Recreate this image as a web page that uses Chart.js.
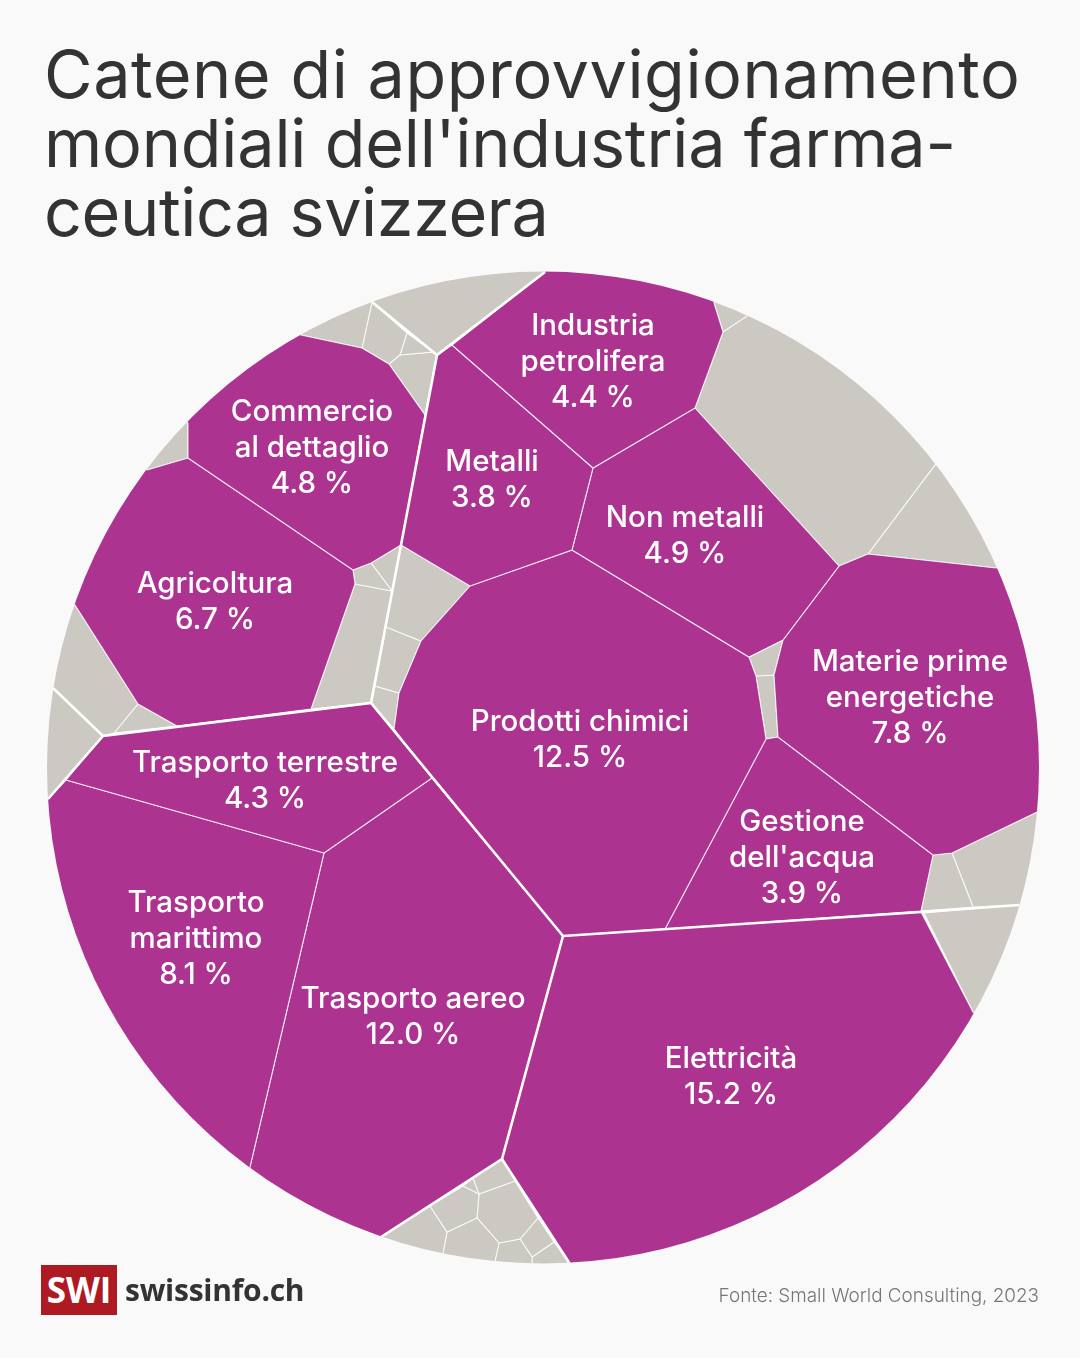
<!DOCTYPE html>
<html lang="it">
<head>
  <meta charset="UTF-8">
  <title>Catene di approvvigionamento</title>
  <script src="https://cdn.jsdelivr.net/npm/chart.js"></script>
  <style>
    html, body { margin:0; padding:0; background:#f9f9f9; }
    body { width:1080px; height:1358px; position:relative; overflow:hidden; font-family:Inter, sans-serif; }
    #chart { position:absolute; left:0; top:0; }
    h1 {
      position:absolute; left:44px; top:40px; margin:0; white-space:nowrap;
      font-size:66.5px; line-height:69px; font-weight:400; color:#333;
    }
    .logo-box {
      position:absolute; left:41px; top:1265px; width:76px; height:50px; background:#ae1a22; color:#fff;
      font:700 35px/50px "Open Sans", sans-serif; text-align:center;
    }
    .logo-name { position:absolute; left:125px; top:1270px; font:700 30px/40px "Open Sans", sans-serif; color:#333; letter-spacing:-0.25px; }
    .source { position:absolute; right:41px; top:1284px; font-size:18.9px; line-height:24px; font-weight:300; color:#777; }
  </style>
</head>
<body>
  <canvas id="chart" width="1080" height="1358"></canvas>
  <h1><span style="letter-spacing:0.55px">Catene di approvvigionamento</span><br><span style="letter-spacing:-0.2px">mondiali dell'industria farma-</span><br><span style="letter-spacing:-0.4px">ceutica svizzera</span></h1>
  <div class="logo-box">SWI</div>
  <div class="logo-name">swissinfo.ch</div>
  <div class="source">Fonte: Small World Consulting, 2023</div>
  <script>
    const categories = ["Industria\npetrolifera", "Commercio\nal dettaglio", "Metalli", "Non metalli", "Agricoltura",
      "Materie prime\nenergetiche", "Prodotti chimici", "Trasporto terrestre", "Gestione\ndell'acqua",
      "Trasporto\nmarittimo", "Trasporto aereo", "Elettricità"];
    const shares = [4.4, 4.8, 3.8, 4.9, 6.7, 7.8, 12.5, 4.3, 3.9, 8.1, 12.0, 15.2];
    const labelAnchors = [[593,326], [312,412], [492,462], [685,518], [215,584], [910,662],
      [580,722], [265,763], [802,822], [196,903], [413,999], [731,1059]];

    // cell outlines, same order as categories
    const namedCells = [
      [[452,345],[545,272],[714,303],[723,332],[695,408],[593,468]],
      [[188,423],[301,335],[362,348],[389,364],[425,415],[401,545],[371,563],[353,570],[188,458]],
      [[437,355],[452,345],[593,468],[572,550],[470,586],[401,545]],
      [[572,550],[593,468],[695,408],[839,566],[783,640],[749,657]],
      [[147,470],[188,458],[353,570],[355,584],[311,709],[177,726],[138,704],[75,605]],
      [[868,554],[996,568],[1037,812],[952,853],[933,855],[778,737],[774,675],[783,640],[839,566]],
      [[470,586],[572,550],[749,657],[756,676],[766,739],[665,929],[563,936],[432,778],[394,729],[399,693],[421,641]],
      [[103,736],[371,703],[432,778],[324,853],[66,780]],
      [[778,737],[933,855],[921,911],[665,929],[766,739]],
      [[48,799],[66,780],[324,853],[250,1167]],
      [[324,853],[432,778],[563,936],[502,1159],[381,1237],[250,1167]],
      [[563,936],[921,912],[973,1012],[570,1264],[502,1159]]
    ];
    // unnamed grey sectors
    const otherCells = [
      [[372,302],[545,272],[437,355]],
      [[301,335],[372,302],[362,348]],
      [[372,302],[407,333],[400,355],[389,364],[362,348]],
      [[407,333],[433,352],[400,355]],
      [[400,355],[433,352],[437,355],[425,415],[389,364]],
      [[188,423],[188,458],[147,470]],
      [[355,584],[353,570],[371,563],[392,591]],
      [[371,563],[401,545],[392,591]],
      [[355,584],[392,591],[371,703],[311,709]],
      [[401,545],[470,586],[421,641],[386,627]],
      [[386,627],[421,641],[399,693],[375,686]],
      [[375,686],[399,693],[394,729],[371,703]],
      [[75,605],[138,704],[114,733],[103,736],[53,688]],
      [[138,704],[177,726],[114,733]],
      [[53,688],[103,736],[48,799]],
      [[502,1159],[515,1181],[479,1194],[473,1178]],
      [[473,1178],[479,1194],[463,1186]],
      [[463,1186],[479,1194],[477,1218],[447,1232],[430,1206]],
      [[430,1206],[447,1232],[443,1253],[381,1237]],
      [[447,1232],[477,1218],[499,1243],[495,1261],[443,1253]],
      [[477,1218],[479,1194],[515,1181],[538,1218],[520,1239],[499,1243]],
      [[499,1243],[520,1239],[532,1257],[532,1263],[495,1261]],
      [[520,1239],[538,1218],[554,1242],[532,1257]],
      [[532,1257],[554,1242],[570,1264],[532,1263]],
      [[933,855],[952,853],[973,907],[921,911]],
      [[952,853],[1037,812],[1019,905],[973,907]],
      [[924,913],[1019,905],[973,1012]],
      [[749,657],[783,640],[774,675],[756,676]],
      [[756,676],[774,675],[778,737],[766,739]],
      [[714,303],[747,316],[723,332]],
      [[747,316],[935,465],[868,554],[839,566],[695,408],[723,332]],
      [[935,465],[996,568],[868,554]]
    ];
    // heavier white lines between the main groups
    const groupLines = [
      [[372,302],[437,355],[545,272]],
      [[437,355],[401,545],[371,703]],
      [[48,799],[103,736],[371,703],[563,936]],
      [[53,688],[103,736]],
      [[563,936],[921,912],[1019,905]],
      [[563,936],[502,1159]],
      [[381,1237],[502,1159],[570,1264]]
    ];
    const disc = { x:543, y:767.5, r:496 };

    // edges running along the disc get extra points just outside it, the clip gives the true arc
    function outline(cell) {
      const pts = [];
      const onRim = p => Math.hypot(p[0]-disc.x, p[1]-disc.y) > disc.r - 5;
      cell.forEach((p, i) => {
        pts.push({x:p[0], y:p[1]});
        const q = cell[(i+1) % cell.length];
        if (onRim(p) && onRim(q)) {
          const a = Math.atan2(p[1]-disc.y, p[0]-disc.x);
          let d = Math.atan2(q[1]-disc.y, q[0]-disc.x) - a;
          if (d > Math.PI) d -= 2*Math.PI;
          if (d < -Math.PI) d += 2*Math.PI;
          for (let k = 0; k <= 24; k++) {
            const t = a + d*k/24;
            pts.push({x:disc.x + (disc.r+4)*Math.cos(t), y:disc.y + (disc.r+4)*Math.sin(t)});
          }
        }
      });
      pts.push({x:cell[0][0], y:cell[0][1]});
      return pts;
    }
    const cellDataset = (cell, colour) => ({
      data: outline(cell), showLine:true, fill:'shape', backgroundColor:colour,
      borderColor:'rgba(255,255,255,0.8)', borderWidth:1.1, pointRadius:0, tension:0, clip:false
    });

    const discClip = {
      id:'discClip',
      beforeDatasetsDraw(chart) {
        const {ctx, scales:{x, y}} = chart;
        ctx.save();
        ctx.beginPath();
        ctx.arc(x.getPixelForValue(disc.x), y.getPixelForValue(disc.y), disc.r, 0, 2*Math.PI);
        ctx.clip();
      },
      afterDatasetsDraw(chart) { chart.ctx.restore(); }
    };
    const cellLabels = {
      id:'cellLabels',
      afterDraw(chart) {
        const {ctx, scales:{x, y}} = chart;
        ctx.save();
        ctx.fillStyle = '#fff';
        ctx.font = '500 29.5px Inter, sans-serif';
        ctx.textAlign = 'center';
        ctx.textBaseline = 'middle';
        categories.forEach((name, i) => {
          const lines = name.split('\n').concat(shares[i].toFixed(1) + ' %');
          lines.forEach((line, k) => {
            ctx.fillText(line, x.getPixelForValue(labelAnchors[i][0]), y.getPixelForValue(labelAnchors[i][1] + k*36));
          });
        });
        ctx.restore();
      }
    };

    new Chart(document.getElementById('chart'), {
      type:'scatter',
      data:{
        datasets:[
          // first dataset ends up on top
          ...groupLines.map(l => ({
            data:l.map(p => ({x:p[0], y:p[1]})), showLine:true, fill:false,
            borderColor:'#fff', borderWidth:2.6, pointRadius:0, clip:false
          })),
          ...namedCells.map(c => cellDataset(c, '#ad3391')),
          ...otherCells.map(c => cellDataset(c, '#cbc9c1'))
        ]
      },
      options:{
        responsive:false, animation:false, devicePixelRatio:1,
        layout:{ padding:0 },
        plugins:{ legend:{display:false}, tooltip:{enabled:false}, title:{display:false} },
        scales:{
          x:{ type:'linear', min:0, max:1080, display:false },
          y:{ type:'linear', min:0, max:1358, reverse:true, display:false }
        }
      },
      plugins:[discClip, cellLabels]
    });
  </script>
</body>
</html>
